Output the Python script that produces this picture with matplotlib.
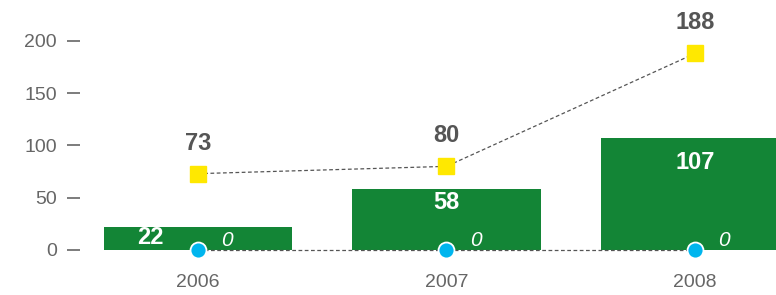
import matplotlib.pyplot as plt
import numpy as np

plt.rcParams['font.family'] = ['Liberation Sans', 'DejaVu Sans']

years = ['2006', '2007', '2008']
bar_values = [22, 58, 107]
yellow_values = [73, 80, 188]
blue_values = [0, 0, 0]
y_ticks = [0, 50, 100, 150, 200]

green = '#138536'
yellow = '#FFE800'
cyan = '#00B5EE'
dark = '#555555'
tick_gray = '#666666'

x = np.arange(len(years))

fig = plt.figure(figsize=(7.76, 2.95), dpi=100)
ax = fig.add_axes([0.103, 0.112, 0.897, 0.888])

ax.bar(x, bar_values, width=0.76, color=green, zorder=1)
ax.plot(x, yellow_values, linestyle=(0, (3, 2)), color=dark, lw=0.9,
        marker='s', markersize=11.5, markerfacecolor=yellow,
        markeredgecolor=yellow, zorder=3)
ax.plot(x, blue_values, linestyle=(0, (3, 2)), color=dark, lw=0.9,
        marker='o', markersize=11.5, markerfacecolor=cyan,
        markeredgecolor='white', markeredgewidth=1.3, zorder=3)

# bar value labels
for i, v in enumerate(bar_values):
    xi = x[i] - 0.19 if v < 30 else x[i]
    ax.text(xi, min(v * 0.78, v - 10), str(v), color='white',
            fontsize=17, fontweight='bold', ha='center', va='center', zorder=4)

# yellow line labels
for i, v in enumerate(yellow_values):
    ax.annotate(str(v), (x[i], v), xytext=(0, 22), textcoords='offset points',
                color=dark, fontsize=17, fontweight='bold',
                ha='center', va='center', zorder=4)

# blue line labels
for i, v in enumerate(blue_values):
    ax.annotate(str(v), (x[i], v), xytext=(21, 7), textcoords='offset points',
                color='white', fontsize=15, fontstyle='italic',
                ha='center', va='center', zorder=4)

ax.set_xlim(-0.475, 2.326)
ax.set_ylim(-11.5, 239.2)
ax.set_xticks(x)
ax.set_xticklabels(years)
ax.set_yticks(y_ticks)

for s in ax.spines.values():
    s.set_visible(False)

ax.tick_params(axis='x', length=0, pad=9, labelsize=14, labelcolor=tick_gray)
ax.tick_params(axis='y', length=9.5, width=1.2, color=tick_gray, pad=7,
               labelsize=14, labelcolor=tick_gray)

fig.savefig('out.png', dpi=100)
